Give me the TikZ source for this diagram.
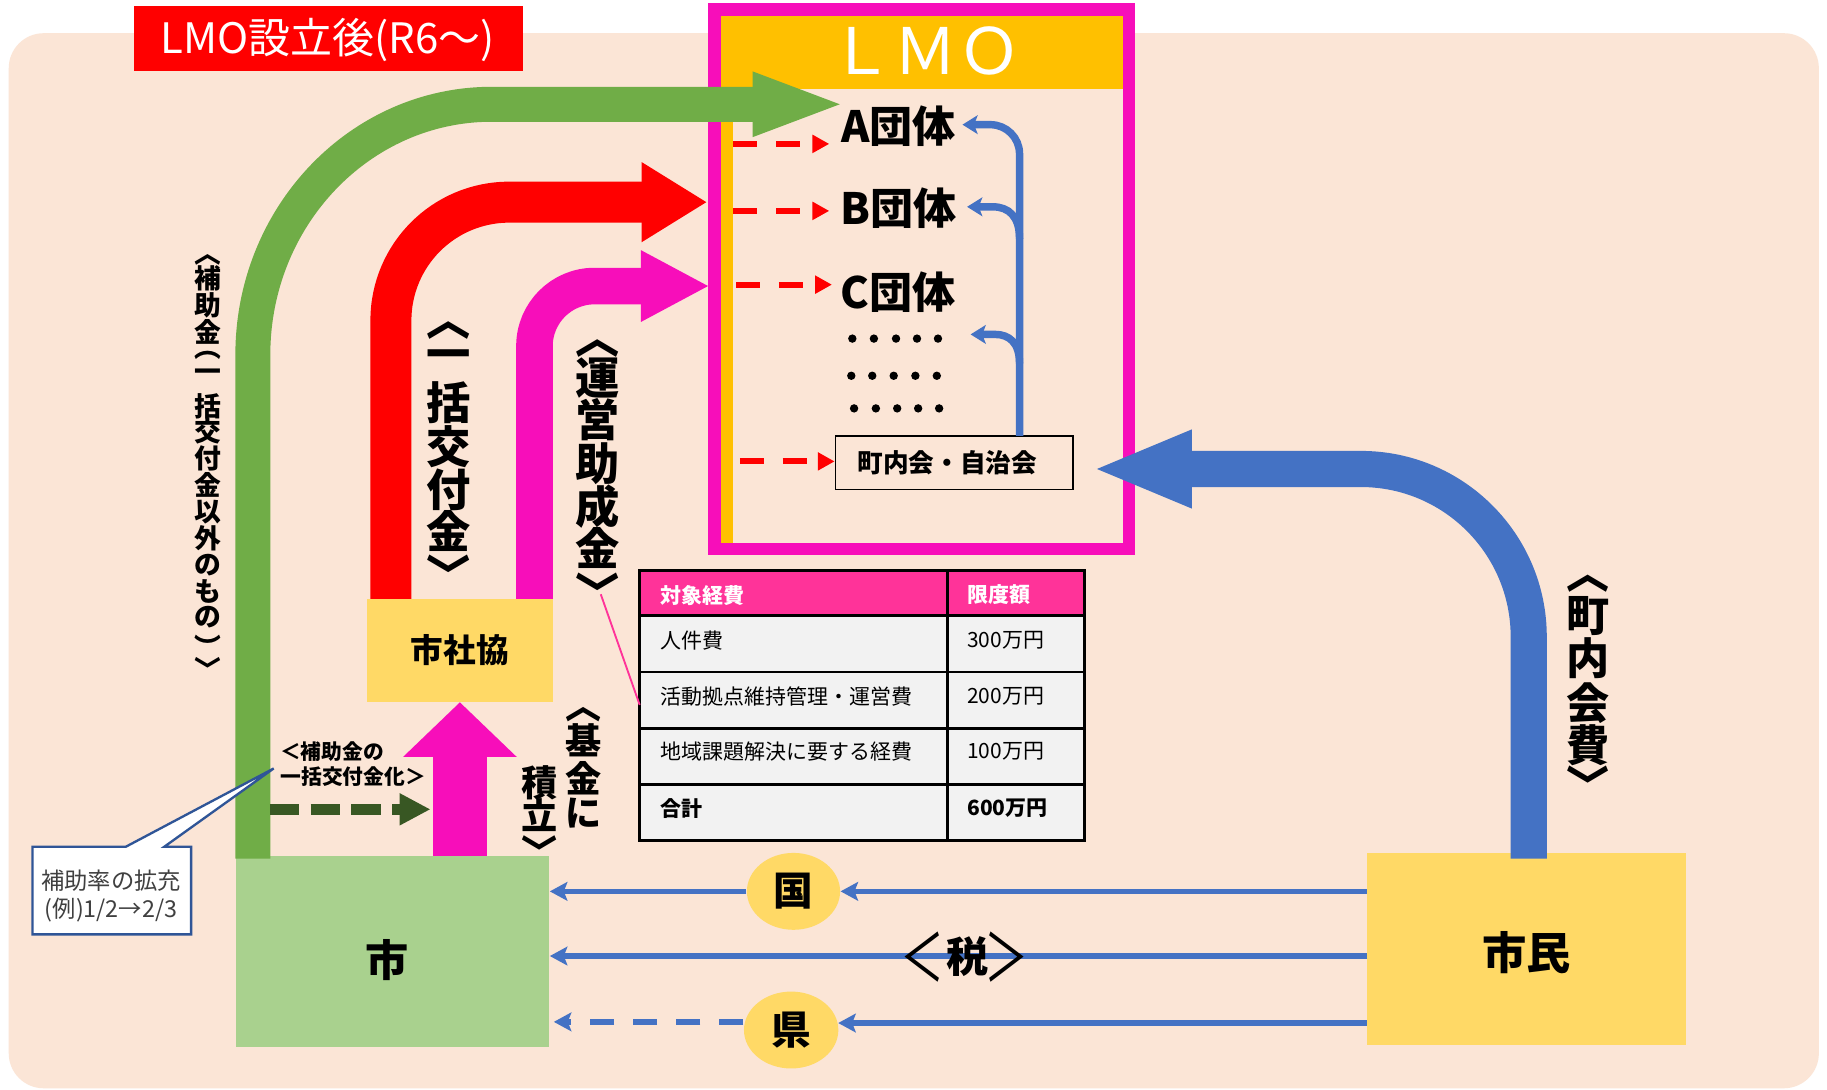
\documentclass[tikz,border=0pt]{standalone}
\usepackage{fontspec}
\usepackage{graphicx}
\setmainfont{Noto Sans CJK JP}
\usetikzlibrary{arrows.meta,shapes.geometric}
\definecolor{bgc}{RGB}{251,229,214}
\definecolor{lmopink}{RGB}{247,14,186}
\definecolor{lmoorange}{RGB}{255,192,0}
\definecolor{grn}{RGB}{112,173,71}
\definecolor{dgrn}{RGB}{56,87,35}
\definecolor{gold}{RGB}{255,217,102}
\definecolor{lgrn}{RGB}{169,209,142}
\definecolor{blu}{RGB}{68,114,196}
\definecolor{hdrpink}{RGB}{255,51,153}
\definecolor{cellgray}{RGB}{242,242,242}
\definecolor{callblue}{RGB}{47,85,151}
\definecolor{calltext}{RGB}{64,64,64}
\newcommand\fs[1]{\fontsize{#1pt}{#1pt}\selectfont}
\newcommand\vcolumn[4]{%
  \foreach \ch/\yy [count=\k] in {#4} {\node[inner sep=0pt,font=#3] (#1\k) at (#2,\yy) {\ch};}}
\begin{document}
\begin{tikzpicture}[x=0.5pt,y=-0.5pt,
  lbl/.style={inner sep=0pt},
  thinblue/.style={draw=blu, line width=2.4pt, -{Stealth[length=7.5pt,width=8pt,inset=1.5pt]}},
  innerblue/.style={draw=blu, line width=3.2pt, -{Stealth[length=6.5pt,width=8pt,inset=1.5pt]}},
  reddash/.style={draw=red, line width=2.6pt, dash pattern=on 10.3pt off 8pt, -{Triangle[length=7.2pt,width=7.4pt]}},
  cell/.style={inner sep=0pt, anchor=west, font=\fs{9}},
]
\useasboundingbox (0,0) rectangle (1568,935);
\fill[white] (0,0) rectangle (1568,935);
\fill[bgc, rounded corners=15pt] (7.5,28.5) rectangle (1561,934);

% title
\fill[red] (115,5) rectangle (449,61);
\node[lbl, font=\fs{18}, text=white] (title) at (281,34) {LMO設立後(R6～)};

% LMO frame
\fill[lmoorange] (618.6,13.8) rectangle (963.6,76.6);
\fill[lmoorange] (618.6,76.6) rectangle (629.4,466);
\draw[lmopink, line width=5.35pt] (613.3,8.2) rectangle (969,471.3);
\node[lbl, font=\fs{27.5}, text=white] (lmo) at (794.5,44) {ＬＭＯ};

\node[lbl, font=\fs{18.5}\bfseries] (A) at (771,108) {A団体};
\node[lbl, font=\fs{18.5}\bfseries] (B) at (771,178.5) {B団体};
\node[lbl, font=\fs{18.5}\bfseries] (C) at (771,250.7) {C団体};
\foreach \xx in {731.5,750,769,787,805} \fill (\xx,290.6) circle[radius=1.8pt];
\foreach \xx in {730.6,748.6,767,785.6,804} \fill (\xx,322.5) circle[radius=1.8pt];
\foreach \xx in {733,751.7,770,788,806} \fill (\xx,350.5) circle[radius=1.8pt];
\coordinate (dots) at (833,287);

\node[draw, line width=0.7pt, fill=bgc, inner sep=0pt, minimum width=102pt, minimum height=23pt, font=\fs{11}\bfseries] (chonai) at (819,397) {町内会・自治会\hspace*{6pt}};

% red dashed arrows
\coordinate (r1) at (629.4,123.5); \coordinate (r1e) at (711.7,123.5);
\coordinate (r2) at (629.4,181); \coordinate (r2e) at (711.7,181);
\coordinate (r3) at (631.8,244.3); \coordinate (r3e) at (714,244.3);
\coordinate (r4) at (635,396); \coordinate (r4e) at (chonai.west |- r4);
\draw[reddash] (r1) -- (r1e);
\draw[reddash] (r2) -- (r2e);
\draw[reddash] (r3) -- (r3e);
\draw[reddash] (r4) -- (r4e);

% inner blue arrows
\draw[innerblue] (875,374) -- (875,132) .. controls (875,118.2) and (863.8,107) .. (850,107) -- (826,107);
\draw[innerblue] (875,205) .. controls (875,186) and (866,177.5) .. (852,177.5) -- (830,177.5);
\draw[innerblue] (875,312) .. controls (875,294) and (866,287) .. (854,287) -- (dots);

% boxes
\node[fill=lgrn, inner sep=0pt, minimum width=134.4pt, minimum height=81.75pt] (shi) at (337.1,816.75) {};
\node[lbl, font=\fs{18.5}\bfseries] (shiT) at (331.8,824) {市};
\node[fill=gold, inner sep=0pt, minimum width=79.7pt, minimum height=44.25pt, font=\fs{14}\bfseries] (shakyo) at (394.7,558) {市社協};
\node[fill=gold, inner sep=0pt, minimum width=136.75pt, minimum height=82.5pt] (shimin) at (1310.25,814.5) {};
\node[lbl, font=\fs{19}\bfseries] (shiminT) at (1310.5,818) {市民};
\node[ellipse, fill=gold, inner sep=0pt, minimum width=40pt, minimum height=33pt, font=\fs{17}\bfseries] (kuni) at (681,765) {国};
\node[ellipse, fill=gold, inner sep=0pt, minimum width=40.5pt, minimum height=33pt, font=\fs{17}\bfseries] (ken) at (679,884) {県};

% big arrows
\coordinate (gS) at (217,737);
\coordinate (gE) at (727,89.5);
\draw[grn, line width=15pt, -{Triangle[length=40.5pt,width=24.5pt]}] (gS) -- (217,304.5) .. controls (217,185.8) and (308.8,89.5) .. (422,89.5) -- (gE);
\coordinate (rE) at (607,173.5);
\draw[red, line width=17.6pt, -{Triangle[length=28.2pt,width=32.3pt]}] (335.5,514) -- (335.5,275) .. controls (335.5,218.9) and (380.9,173.5) .. (437,173.5) -- (rE);
\coordinate (mE) at (609,245.5);
\draw[lmopink, line width=15.7pt, -{Triangle[length=29.5pt,width=28.5pt]}] (458.7,514) -- (458.7,297) .. controls (458.7,268.6) and (481.8,245.5) .. (510.2,245.5) -- (mE);
\coordinate (bS) at (1312,737);
\coordinate (bE) at (937,402.5);
\draw[blu, line width=15.5pt, -{Triangle[length=43pt,width=30.3pt]}] (bS) -- (1312,546.5) .. controls (1312,467) and (1247.5,402.5) .. (1168,402.5) -- (bE);
\draw[lmopink, line width=23.5pt, -{Triangle[length=23.5pt,width=47.4pt]}] (shi.north -| shakyo.south) -- (shakyo.south);

% green dashed
\coordinate (dgS) at (231.6,694.6);
\coordinate (dgE) at (369.5,694.6);
\draw[dgrn, line width=4.7pt, dash pattern=on 12.5pt off 5pt, -{Triangle[length=13.25pt,width=12.85pt]}] (dgS) -- (dgE);
\node[lbl, anchor=west, font=\fs{8.9}\bfseries] (ik1) at (240,645) {＜補助金の};
\node[lbl, anchor=west, font=\fs{8.9}\bfseries] (ik2) at (240.5,666.7) {一括交付金化＞};

% callout
\filldraw[fill=white, draw=callblue, line width=1pt] (27.9,726.7) -- (108,726.7) -- (234.9,659.5) -- (141,726.7) -- (164,726.7) -- (164,801.9) -- (27.9,801.9) -- cycle;
\node[lbl, font=\fs{10}, text=calltext] (cl1) at (95.3,755.5) {補助率の拡充};
\node[lbl, font=\fs{10}, text=calltext] (cl2) at (95.3,780.6) {(例)1/2→2/3};

% vertical labels
\vcolumn{g}{178.7}{\fs{11.5}\bfseries}{︿/223,補/238.9,助/261.8,金/284.7,︵/304.7,一/321.9,括/349,交/370.5,付/393.4,金/416.3,以/439.2,外/462,の/485,も/508,の/529.3,︶/554.9,﹀/573.5}
\vcolumn{ik}{385.2}{\fs{19}\bfseries}{︿/283.3,一/309,括/346,交/383.5,付/420.6,金/456,﹀/491.7}
\vcolumn{un}{513}{\fs{19}\bfseries}{︿/298.8,運/324.6,営/360.5,助/397.6,成/435,金/470.6,﹀/507.1}
\vcolumn{cf}{1363}{\fs{18.5}\bfseries}{︿/500.6,町/529,内/565,会/603.7,費/639.6,﹀/672.6}
\vcolumn{kk}{500.5}{\fs{15.5}\bfseries}{︿/613.7,基/635,金/668,に/698}
\vcolumn{kt}{463}{\fs{15.5}\bfseries}{積/672,立/699.6,﹀/729.9}

% tax arrows
\draw[thinblue] (shimin.west |- kuni.east) -- (kuni.east);
\draw[thinblue] (kuni.west) -- (kuni.west -| shi.east);
\coordinate (taxR) at (1173.5,820.5);
\draw[thinblue] (taxR) -- (taxR -| shi.east);
\coordinate (kenR) at (719.4,878);
\coordinate (kenL) at (638,877);
\draw[thinblue] (shimin.west |- kenR) -- (kenR);
\draw[thinblue, dash pattern=on 10.5pt off 8pt, shorten >=1.7pt] (kenL) -- (kenL -| shi.east);
\node[lbl, font=\fs{18}] (zeiL) at (792,821) {\scalebox{1.05}[1.55]{＜}};
\node[lbl, font=\fs{18}\bfseries] (zei) at (830.7,821) {税};
\node[lbl, font=\fs{18}] (zeiR) at (864,821) {\scalebox{1.05}[1.55]{＞}};

% table
\fill[hdrpink] (548.8,489.9) rectangle (930.5,528.5);
\fill[cellgray] (548.8,528.5) rectangle (930.5,721.6);
\foreach \yy in {528.5,576.8,625,673} \draw[line width=1.15pt] (548.8,\yy) -- (930.5,\yy);
\draw[line width=1.15pt] (813,489.9) -- (813,721.6);
\draw[line width=1.15pt] (548.8,489.9) rectangle (930.5,721.6);
\node[cell, text=white, font=\fs{9}\bfseries] (h1) at (566.5,510.7) {対象経費};
\node[cell, text=white, font=\fs{9}\bfseries] (h2) at (829.8,510.7) {限度額};
\node[cell] (a1) at (566.5,549.4) {人件費};
\node[cell] (a2) at (829.8,549.4) {300万円};
\node[cell] (b1) at (566.5,597.4) {活動拠点維持管理・運営費};
\node[cell] (b2) at (829.8,597.4) {200万円};
\node[cell] (c1) at (566.5,645) {地域課題解決に要する経費};
\node[cell] (c2) at (829.8,645) {100万円};
\node[cell, font=\fs{9}\bfseries] (d1) at (566.5,693.6) {合計};
\node[cell, font=\fs{9}\bfseries] (d2) at (829.8,693.6) {600万円};

% leader line
\coordinate (ldA) at (515.6,510);
\coordinate (ldB) at (549,605);
\draw[hdrpink, line width=0.8pt] (ldA) -- (ldB);
\end{tikzpicture}
\end{document}
